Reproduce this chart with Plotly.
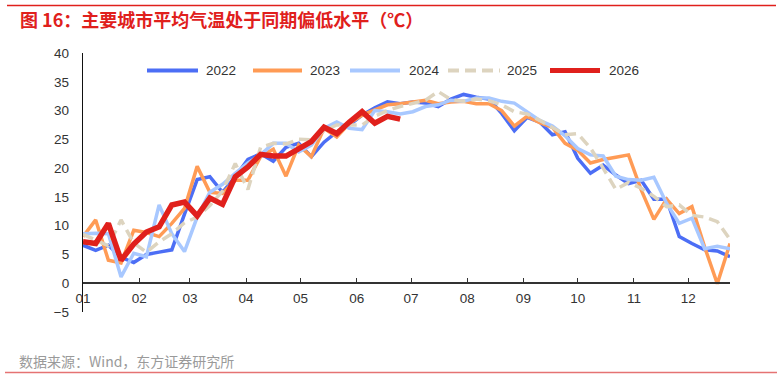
import pandas as pd
import plotly.graph_objects as go

# weekly dates (common base year) for x axis
weeks = pd.date_range("2001-01-01", periods=52, freq="7D")

y2022 = [6.6, 5.7, 6.6, 4.5, 3.6, 5.0, 5.4, 5.8, 12.0, 18.0, 18.5, 15.8, 18.5, 21.5, 22.5, 21.2,
         23.6, 24.3, 22.0, 24.5, 26.3, 27.5, 29.2, 30.5, 31.5, 31.2, 31.5, 31.3, 30.7, 32.0, 32.8, 32.3,
         32.0, 29.5, 26.5, 28.8, 28.0, 25.8, 26.3, 21.7, 19.1, 20.5, 18.8, 17.3, 17.9, 14.6, 14.6, 8.1,
         6.9, 5.8, 5.6, 4.6]
y2023 = [8.1, 11.0, 4.0, 3.5, 9.2, 8.8, 8.1, 10.4, 13.0, 20.3, 15.8, 15.6, 17.9, 17.9, 22.0, 23.3,
         18.6, 24.0, 22.0, 26.9, 25.4, 27.8, 29.2, 30.1, 31.0, 31.2, 31.5, 31.8, 31.2, 31.5, 31.6, 31.2,
         31.2, 30.0, 27.3, 29.0, 27.9, 27.1, 24.3, 23.1, 20.9, 21.5, 21.9, 22.3, 16.2, 11.1, 14.6, 12.1,
         13.3, 6.3, -0.1, 6.9]
y2024 = [8.6, 8.7, 8.6, 1.1, 5.2, 4.6, 13.6, 8.6, 5.5, 11.5, 15.8, 17.2, 19.1, 20.9, 22.3, 24.3,
         24.3, 22.8, 24.0, 26.9, 28.0, 26.9, 26.7, 30.0, 29.8, 29.4, 29.8, 30.7, 31.0, 31.8, 31.6, 32.2,
         32.2, 31.6, 31.3, 29.8, 28.3, 27.3, 25.6, 23.4, 22.3, 22.1, 18.6, 18.0, 17.9, 18.4, 13.9, 10.4,
         11.3, 6.0, 6.4, 6.0]
y2025 = [8.5, 7.5, 6.5, 11.0, 7.0, 5.4, 7.2, 8.6, 10.5, 11.5, 13.5, 16.0, 20.8, 16.3, 23.6, 24.3,
         24.2, 25.0, 24.9, 26.5, 27.5, 27.5, 27.5, 29.0, 30.0, 30.7, 31.2, 31.8, 33.3, 31.9, 31.6, 32.0,
         31.7, 31.0, 29.8, 29.4, 28.3, 27.0, 25.8, 26.0, 23.5, 20.0, 16.3, 17.5, 16.5, 15.1, 13.3, 13.6,
         11.8, 11.5, 10.7, 7.6]
y2026 = [7.2, 6.9, 10.4, 4.0, 6.8, 8.9, 9.8, 13.6, 14.1, 11.7, 14.8, 13.7, 18.5, 20.2, 22.4, 22.1,
         22.1, 23.4, 24.6, 27.1, 26.0, 28.0, 29.8, 27.8, 29.0, 28.5]

series_names = ["2022", "2023", "2024", "2025", "2026"]
series_values = [y2022, y2023, y2024, y2025, y2026]
colors = ["#4C6EF5", "#FF9B55", "#A8C8FF", "#DDD4BF", "#E0201C"]
widths = [3.5, 3.5, 3.5, 3.5, 5.5]
dashes = ["solid", "solid", "solid", "11px,6px", "solid"]

title_text = "图 16：主要城市平均气温处于同期偏低水平（℃）"
source_text = "数据来源：Wind，东方证券研究所"

fig = go.Figure()
for name, vals, c, w, d in zip(series_names, series_values, colors, widths, dashes):
    fig.add_trace(go.Scatter(
        x=weeks[:len(vals)], y=vals, mode="lines", name=name,
        line=dict(color=c, width=w, dash=d), showlegend=False,
    ))

# plot-area pixel geometry (for layout items in paper coords)
L, R, T, B = 83, 730, 53, 312
W, H = R - L, B - T
def px(x):
    return (x - L) / W
def py(y):
    return (B - y) / H

shapes = []
annotations = []
# custom legend
leg_line_x = [(147, 198), (253, 302), (350, 400), (448, 500), (550, 600)]
leg_text_x = [204, 308, 407, 505, 607]
for (x0, x1), tx, name, c, w, d in zip(leg_line_x, leg_text_x, series_names, colors, widths, dashes):
    shapes.append(dict(type="line", xref="paper", yref="paper", x0=px(x0), x1=px(x1),
                       y0=py(70.5), y1=py(70.5),
                       line=dict(color=c, width=4 if w < 5 else 5, dash=d)))
    annotations.append(dict(xref="paper", yref="paper", x=px(tx), y=py(70.5), text=name,
                            showarrow=False, xanchor="left", yanchor="middle",
                            font=dict(size=13.5, color="#333333",
                                      family="Liberation Sans, Arial, sans-serif")))

# top red line and bottom pink line
shapes.append(dict(type="line", xref="paper", yref="paper", x0=px(7), x1=px(776),
                   y0=py(5.5), y1=py(5.5), line=dict(color="#E0201C", width=1.5)))
shapes.append(dict(type="line", xref="paper", yref="paper", x0=px(5), x1=px(777),
                   y0=py(372.5), y1=py(372.5), line=dict(color="#E57373", width=1.5)))

annotations.append(dict(xref="paper", yref="paper", x=px(18), y=py(19), text="<b>" + title_text + "</b>",
                        showarrow=False, xanchor="left", yanchor="middle",
                        font=dict(size=18, color="#E0201C", family="Noto Sans CJK SC")))
annotations.append(dict(xref="paper", yref="paper", x=px(17), y=py(361), text=source_text,
                        showarrow=False, xanchor="left", yanchor="middle",
                        font=dict(size=14, color="#9A9A9A", family="Noto Sans CJK SC")))

fig.update_layout(
    width=782, height=379,
    margin=dict(l=L, r=782 - R, t=T, b=379 - B, pad=0),
    paper_bgcolor="white", plot_bgcolor="white",
    shapes=shapes, annotations=annotations,
    xaxis=dict(
        type="date", range=[weeks[0], weeks[-1]],
        tick0="2001-01-01", dtick="M1", tickformat="%m",
        showgrid=False, zeroline=False,
        showline=True, linecolor="#333333", linewidth=2,
        ticks="inside", ticklen=4, tickwidth=1, tickcolor="#333333",
        anchor="free", position=5 / 45, ticklabelstandoff=3,
        tickfont=dict(size=13.5, color="#333333", family="Liberation Sans, Arial, sans-serif"),
    ),
    yaxis=dict(
        range=[-5, 40], dtick=5, tick0=0,
        showgrid=False, zeroline=False,
        showline=True, linecolor="#111111", linewidth=1.3,
        ticks="", ticklabelstandoff=10,
        tickfont=dict(size=13.5, color="#333333", family="Liberation Sans, Arial, sans-serif"),
    ),
)

fig.write_html("out.html")
